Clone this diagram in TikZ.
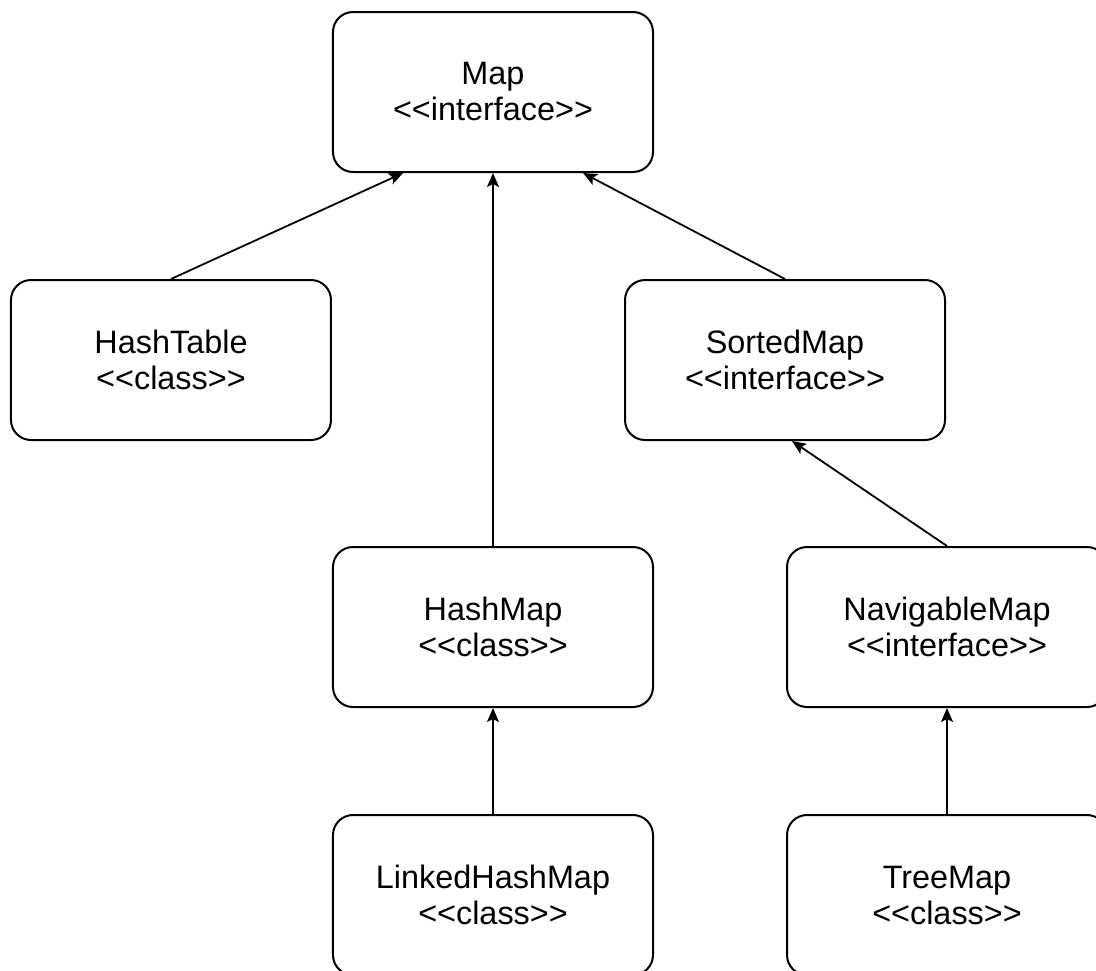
\documentclass[tikz,border=0pt]{standalone}
\usepackage{fontspec}
\setmainfont{Liberation Sans}
\usetikzlibrary{positioning, arrows.meta}
\newcommand\stereo[1]{<\kern0pt<#1>\kern0pt>}
\tikzset{
  >={Stealth[length=7pt, width=6pt, inset=1.5pt]},
  node distance=53pt,
  uml/.style={draw, line width=1pt, rounded corners=10pt,
    minimum width=160pt, minimum height=80pt, inner sep=0pt,
    align=center, font=\fontsize{16.2}{18}\selectfont},
  inherit/.style={->, line width=0.9pt},
}

\begin{document}
\begin{tikzpicture}
  \useasboundingbox (-246.5pt,46pt) rectangle (301.5pt,-439pt);

  % types
  \node[uml] (map) {Map\\\stereo{interface}};
  \node[uml, below left=53pt and 0pt of map] (hashtable) {HashTable\\\stereo{class}};
  \node[uml, below=53pt of map, xshift=146pt] (sortedmap) {SortedMap\\\stereo{interface}};
  \node[uml, below=186.5pt of map] (hashmap) {HashMap\\\stereo{class}};
  \node[uml, right=66pt of hashmap] (navigablemap) {NavigableMap\\\stereo{interface}};
  \node[uml, below=53pt of hashmap] (linkedhashmap) {LinkedHashMap\\\stereo{class}};
  \node[uml, below=53pt of navigablemap] (treemap) {TreeMap\\\stereo{class}};

  % inheritance
  \draw[inherit] (hashtable.north) -- ([xshift=-45pt]map.south);
  \draw[inherit] (sortedmap.north) -- ([xshift=45pt]map.south);
  \draw[inherit] (hashmap) -- (map);
  \draw[inherit] (navigablemap.north) -- ([xshift=3.5pt]sortedmap.south);
  \draw[inherit] (linkedhashmap) -- (hashmap);
  \draw[inherit] (treemap) -- (navigablemap);
\end{tikzpicture}
\end{document}
